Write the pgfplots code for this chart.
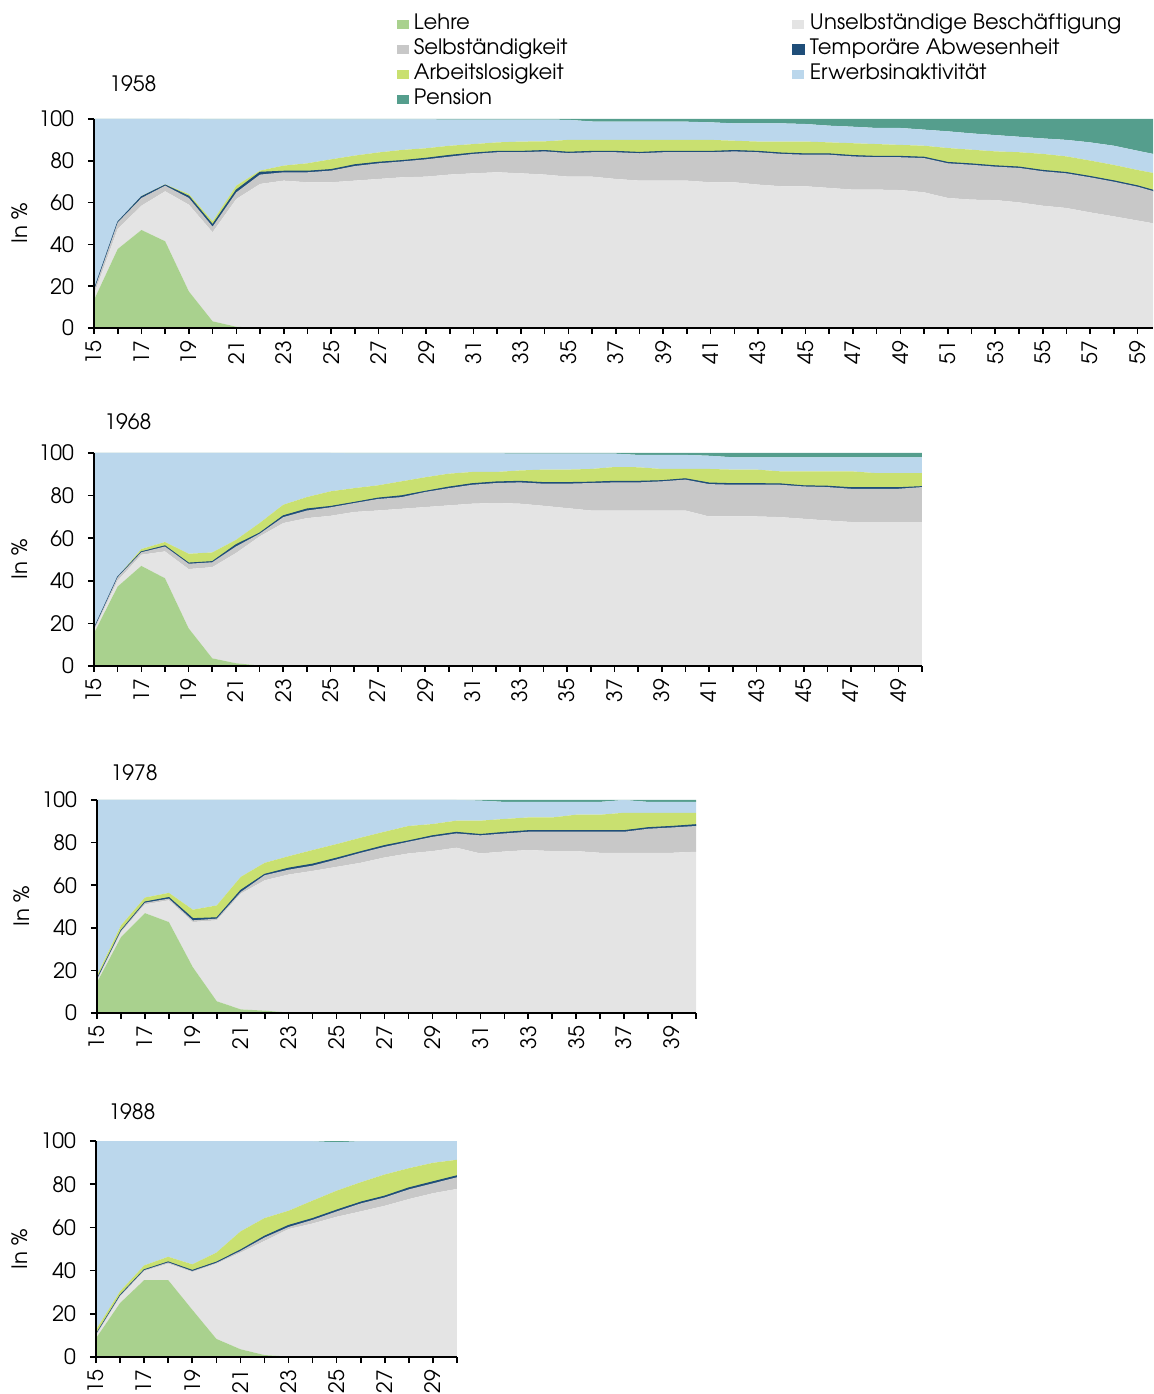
\documentclass[border=0pt]{standalone}
\usepackage{pgfplots}
\pgfplotsset{compat=1.18}
\usepackage{pgfplotstable}
\usepackage{fontspec}
\setmainfont{TeX Gyre Adventor}
\newcommand\fsz{\fontsize{10.6}{12.7}\selectfont}
\definecolor{cLehre}{HTML}{A9D18E}
\definecolor{cUns}{HTML}{E4E4E4}
\definecolor{cSel}{HTML}{C8C8C8}
\definecolor{cTmp}{HTML}{1F4E79}
\definecolor{cArb}{HTML}{C9E070}
\definecolor{cIna}{HTML}{BBD7EC}
\definecolor{cPen}{HTML}{559E8D}

\pgfplotstableread{
age L U S T A P
15 13.4 16 18 18.2 18.4 100
16 37.8 47.4 50.5 50.7 50.9 100
17 46.9 58.5 62.2 62.8 63.1 100
18 41.5 65.4 68.1 68.4 68.7 100
19 17.5 59.0 62.2 63.0 64.1 100
20 3.2 45.8 48.5 49.4 51.0 99.8
21 0.6 61.7 64.9 66.0 68.1 99.8
22 0 68.9 73.4 74.5 75.3 99.8
23 0 70.5 74.5 75.0 77.7 99.8
24 0 69.7 74.5 75.0 78.8 99.8
25 0 69.7 75.3 75.8 80.7 99.8
26 0 70.5 77.5 78.1 82.5 99.8
27 0 71.3 78.8 79.3 84.0 99.8
28 0 72.1 79.7 80.1 85.2 99.8
29 0 72.4 80.7 81.2 86.0 99.8
30 0 73.4 82.0 82.6 87.2 99.7
31 0 74.0 83.3 83.7 88.0 99.7
32 0 74.5 84.1 84.5 88.8 99.7
33 0 74.0 84.1 84.5 89.2 99.7
34 0 73.4 84.5 84.9 89.3 99.7
35 0 72.4 83.7 84.1 90.0 99.6
36 0 72.4 84.1 84.5 90.0 98.8
37 0 71.3 84.1 84.5 90.0 98.7
38 0 70.5 83.6 84.0 90.0 98.7
39 0 70.5 84.1 84.5 90.0 98.7
40 0 70.5 84.1 84.5 90.0 98.7
41 0 69.7 84.1 84.5 90.0 98.4
42 0 69.7 84.5 84.9 89.6 97.9
43 0 68.6 84.1 84.5 89.2 97.9
44 0 67.8 83.3 83.7 89.2 97.9
45 0 67.8 82.9 83.3 89.2 97.6
46 0 67.0 82.9 83.3 88.8 96.8
47 0 66.2 82.1 82.5 88.4 96.3
48 0 66.2 81.7 82.1 88.0 95.7
49 0 66.0 81.7 82.1 87.6 95.7
50 0 64.9 81.3 81.7 87.2 94.9
51 0 62.2 78.8 79.2 86.1 94.1
52 0 61.4 78.1 78.5 85.3 93.1
53 0 61.2 77.2 77.6 84.5 92.3
54 0 60.1 76.6 77.0 84.1 91.5
55 0 58.5 75.0 75.4 83.3 90.7
56 0 57.4 74.0 74.4 82.1 90.0
57 0 55.3 72.1 72.5 80.1 88.8
58 0 53.4 70.0 70.4 78.0 87.2
59 0 51.4 67.6 68.0 75.6 84.8
60 0 49.4 64.4 64.8 73.4 82.5
}\tabA

\pgfplotstableread{
age L U S T A P
15 15.4 17.0 17.5 17.6 17.7 100
16 37.3 40.1 41.7 41.8 41.9 100
17 47.0 52.2 53.4 53.6 54.9 100
18 41.2 53.8 56.1 56.4 58.2 100
19 17.7 45.5 48.0 48.3 52.7 100
20 3.6 46.4 48.7 49.0 53.3 100
21 1.3 53.0 56.1 56.9 59.2 100
22 0.2 60.8 62.1 62.4 67.1 100
23 0 67.1 69.9 70.5 75.7 100
24 0 69.4 73.0 73.7 79.3 100
25 0 70.5 74.5 74.9 82.0 100
26 0 72.3 76.5 76.8 83.5 99.8
27 0 73.0 78.4 78.8 84.8 99.8
28 0 73.8 79.3 79.9 86.7 99.8
29 0 74.6 81.7 82.0 88.6 99.8
30 0 75.4 83.5 84.0 90.3 99.8
31 0 76.2 85.1 85.6 91.1 99.8
32 0 76.5 85.9 86.4 91.1 99.8
33 0 76.2 86.2 86.7 91.8 99.7
34 0 75.2 85.6 86.1 92.2 99.7
35 0 74.1 85.6 86.1 92.2 99.7
36 0 73.0 85.9 86.3 92.5 99.7
37 0 73.0 86.2 86.7 93.4 99.7
38 0 73.0 86.2 86.7 93.3 99.1
39 0 73.0 86.7 87.0 92.5 99.1
40 0 73.0 87.5 87.9 92.5 99.1
41 0 70.2 85.4 85.9 92.5 98.7
42 0 70.2 85.1 85.6 92.2 98.0
43 0 70.2 85.1 85.6 92.2 98.0
44 0 69.9 85.1 85.5 91.4 98.0
45 0 69.1 84.3 84.6 91.4 98.0
46 0 68.3 84.0 84.4 91.4 98.0
47 0 67.6 83.2 83.7 91.4 98.0
48 0 67.6 83.2 83.7 90.6 98.0
49 0 67.6 83.2 83.7 90.6 98.0
50 0 67.6 84.0 84.2 90.6 98.0
}\tabB

\pgfplotstableread{
age L U S T A P
15 14.4 15.5 15.8 16.0 17.6 100
16 35.6 38.0 38.5 38.7 41.1 100
17 46.9 51.0 51.8 52.1 54.2 100
18 42.7 52.9 53.7 54.2 56.4 100
19 21.5 42.7 43.5 44.3 48.5 100
20 5.5 43.5 44.3 44.7 50.5 100
21 1.7 56.0 56.8 57.6 63.9 100
22 1.1 62.3 64.7 65.1 70.5 100
23 0.2 65.0 67.3 68.0 73.6 100
24 0 66.7 69.2 69.9 76.5 100
25 0 68.6 72.1 72.7 79.3 100
26 0 70.5 75.2 75.7 82.3 100
27 0 73.0 78.0 78.6 85.1 100
28 0 74.9 80.4 80.8 87.8 100
29 0 76.0 82.7 83.2 88.7 100
30 0 77.6 84.3 84.8 90.3 100
31 0 74.9 83.4 83.8 90.3 99.7
32 0 75.8 84.3 84.8 91.1 99.1
33 0 76.5 85.1 85.6 91.8 99.1
34 0 76.0 85.1 85.6 91.8 99.1
35 0 76.0 85.1 85.6 93.1 99.1
36 0 75.2 85.1 85.6 93.1 99.1
37 0 75.2 85.1 85.6 94.0 100
38 0 75.2 86.5 87.0 94.0 99.1
39 0 75.2 87.1 87.6 94.0 99.1
40 0 75.7 87.8 88.4 94.0 99.1
}\tabC

\pgfplotstableread{
age L U S T A P
15 8.7 10.2 10.4 10.5 12.6 100
16 25.0 28.1 28.4 28.6 30.4 100
17 35.6 39.8 40.2 40.4 42.4 100
18 35.6 43.2 43.8 44.0 46.4 100
19 21.9 39.4 39.8 40.1 42.9 100
20 8.4 43.2 43.6 43.9 48.3 100
21 3.6 48.3 49.1 49.5 58.1 100
22 0.9 53.7 55.3 55.9 64.3 100
23 0.2 59.2 60.2 60.9 67.7 100
24 0 61.8 63.5 64.1 72.4 99.9
25 0 64.9 67.4 68.0 77.0 99.4
26 0 67.4 71.1 71.7 80.9 99.9
27 0 70.0 73.9 74.5 84.5 100
28 0 73.1 77.6 78.3 87.4 100
29 0 75.8 80.4 81.1 89.9 100
30 0 77.8 83.2 83.9 91.3 100
}\tabD

\pgfplotsset{
  panel/.style={
    scale only axis, anchor=south west,
    axis lines=left, axis line style={-, black, line width=0.8pt},
    axis on top,
    ymin=0, ymax=100, ytick={0,20,...,100}, xmin=15,
    tick align=outside, major tick length=3pt, minor tick length=3pt,
    tick style={black, line width=0.8pt},
    /pgf/number format/assume math mode=true,
    tick label style={font=\fsz},
    xticklabel style={rotate=90, anchor=east},
    yticklabel style={xshift=-3.5pt},
    ylabel={In \%}, label style={font=\fsz},
    title style={font=\fsz, anchor=center, yshift=-6pt},
    stack plots=y, clip=true,
  },
}
\newcommand\layers[1]{%
  \addplot[fill=cLehre, draw=none] table[x=age, y=L]{#1} \closedcycle;
  \addplot[fill=cUns, draw=none] table[x=age, y expr=\thisrow{U}-\thisrow{L}]{#1} \closedcycle;
  \addplot[fill=cSel, draw=none] table[x=age, y expr=\thisrow{S}-\thisrow{U}]{#1} \closedcycle;
  \addplot[fill=cTmp, draw=cTmp, line width=0.5pt] table[x=age, y expr=\thisrow{T}-\thisrow{S}]{#1} \closedcycle;
  \addplot[fill=cArb, draw=none] table[x=age, y expr=\thisrow{A}-\thisrow{T}]{#1} \closedcycle;
  \addplot[fill=cIna, draw=none] table[x=age, y expr=\thisrow{P}-\thisrow{A}]{#1} \closedcycle;
  \addplot[fill=cPen, draw=none] table[x=age, y expr=100-\thisrow{P}]{#1} \closedcycle;
}

\begin{document}
\begin{tikzpicture}
\useasboundingbox (0,0) rectangle (576.5pt,697pt);

% 1958
\begin{axis}[panel, at={(47pt,533pt)}, width=529.5pt, height=104.5pt,
  xmax=59.65, xtick={15,17,...,59}, minor xtick={16,18,...,58},
  title={1958}, title style={at={(axis description cs:0.0368,1.1667)}},
  ylabel style={at={(axis description cs:-0.0699,0.5)}, anchor=center},
  legend columns=2, legend cell align=left,
  legend image code/.code={\fill[#1] (0pt,-2.4pt) rectangle (6pt,2.4pt);},
  legend style={at={(axis description cs:0.286,1.503)}, anchor=north west,
    draw=none, fill=none, inner sep=0pt, outer sep=0pt, font=\fsz,
    row sep=2pt, column sep=0pt,
    nodes={inner sep=0pt, text height=8pt, text depth=2.5pt},
    /tikz/every odd column/.append style={column sep=2.5pt}},
]
\layers{\tabA}
\legend{\makebox[189pt][l]{Lehre}, Unselbständige Beschäftigung,
  \makebox[189pt][l]{Selbständigkeit}, Temporäre Abwesenheit,
  \makebox[189pt][l]{Arbeitslosigkeit}, Erwerbsinaktivität, Pension}
\end{axis}

% 1968
\begin{axis}[panel, at={(47pt,364pt)}, width=414pt, height=106.5pt,
  xmax=50, xtick={15,17,...,49}, minor xtick={16,18,...,50},
  title={1968}, title style={at={(axis description cs:0.041,1.1455)}},
  ylabel style={at={(axis description cs:-0.0894,0.5)}, anchor=center},
]
\layers{\tabB}
\end{axis}

% 1978
\begin{axis}[panel, at={(48.5pt,190.5pt)}, width=299.5pt, height=106.5pt,
  xmax=40, xtick={15,17,...,39}, minor xtick={16,18,...,40},
  title={1978}, title style={at={(axis description cs:0.0618,1.1268)}},
  ylabel style={at={(axis description cs:-0.1252,0.5)}, anchor=center},
]
\layers{\tabC}
\end{axis}

% 1988
\begin{axis}[panel, at={(48pt,18.5pt)}, width=180.5pt, height=108pt,
  xmax=30, xtick={15,17,...,29}, minor xtick={16,18,...,30},
  title={1988}, title style={at={(axis description cs:0.0997,1.134)}},
  ylabel style={at={(axis description cs:-0.2105,0.5)}, anchor=center},
]
\layers{\tabD}
\end{axis}
\end{tikzpicture}
\end{document}
